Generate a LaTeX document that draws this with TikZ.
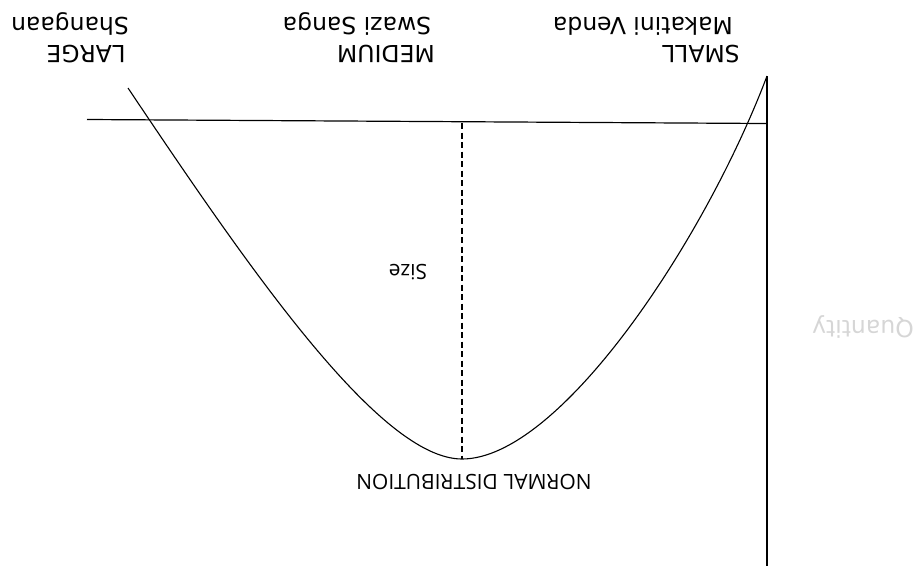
\documentclass[tikz,border=0pt]{standalone}
\usepackage{fontspec}
\setmainfont{Open Sans}
\newfontfamily\djv{DejaVu Sans}
\begin{document}
\begin{tikzpicture}[x=1pt,y=-1pt,
  lbl/.style={rotate=180,inner sep=0pt,anchor=base,font=\djv\fontsize{23.5}{26}\selectfont},
  lbs/.style={rotate=180,inner sep=0pt,anchor=base,font=\fontsize{21}{24}\selectfont},
  ln/.style={line width=1.2pt,black}]
\useasboundingbox (0,0) rectangle (923,566);
% axes
\coordinate (hl) at (87,119.5);
\coordinate (hr) at (767,123.5);
\coordinate (vt) at (767,76);
\coordinate (vb) at (767,566);
\draw[ln] (hl) -- (hr);
\draw[ln,line width=1.4pt] (vt) -- (vb);
% curve
\coordinate (cstart) at (128,88);
\coordinate (cmin) at (462,459);
\draw[ln,line width=1.1pt] (cstart) .. controls (250,270) and (380,459) .. (cmin)
  .. controls (560,459) and (705,240) .. (vt);
% dashed
\coordinate (dtop) at (462,123);
\draw[ln,dashed,dash pattern=on 6pt off 3.5pt,line width=1.1pt] (dtop) -- (cmin);
% labels
\node[lbl] (sh) at (70,17) {Shangaan};
\node[lbl] (lg) at (86,45) {LARGE};
\node[lbl] (ss) at (357,17) {Swazi Sanga};
\node[lbl] (md) at (386,45) {MEDIUM};
\node[lbl] (mv) at (643,17) {Makatini Venda};
\node[lbl] (sm) at (701,45) {SMALL};
\node[lbs] (nd) at (474,474) {NORMAL DISTRIBUTION};
\node[lbs] (sz) at (408,264) {Size};
\node[lbl,text=black!16] (qt) at (863,320) {Quantity};
\end{tikzpicture}
\end{document}
